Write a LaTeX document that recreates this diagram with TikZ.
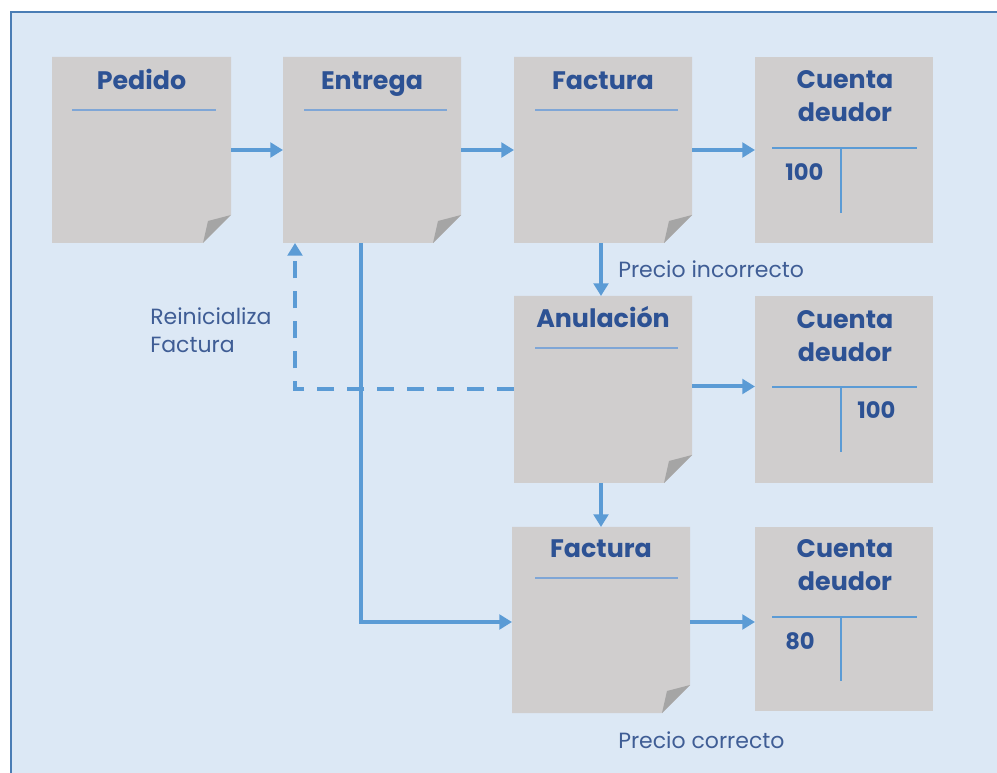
\documentclass[tikz,border=0pt]{standalone}
\usepackage{fontspec}
\setmainfont{Poppins}
\usetikzlibrary{arrows.meta,calc,fit}
\definecolor{bgblue}{HTML}{DCE8F5}
\definecolor{framec}{HTML}{4A7DB5}
\definecolor{pagec}{HTML}{D0CECE}
\definecolor{foldc}{HTML}{A5A5A5}
\definecolor{titlec}{HTML}{2D5294}
\definecolor{labelc}{HTML}{3F5D95}
\definecolor{arrc}{HTML}{5B9BD5}
\definecolor{ulinec}{HTML}{7FA6D6}
\tikzset{
  arr/.style={draw=arrc,line width=3pt,-{Triangle[length=9.5pt,width=11pt]}},
  dasharr/.style={arr,dash pattern=on 12.75pt off 9.75pt},
  ttl/.style={text=titlec,font=\fontsize{19}{24.5}\selectfont\bfseries,anchor=base,inner sep=0pt,align=center},
  num/.style={text=titlec,font=\fontsize{17}{20}\selectfont\bfseries,anchor=base west,inner sep=0pt},
  lbl/.style={text=labelc,font=\fontsize{16.5}{21}\selectfont,anchor=base west,inner sep=0pt,align=left},
  uline/.style={draw=ulinec,line width=0.9pt},
  tline/.style={draw=arrc,line width=0.9pt},
  boxarea/.style={inner sep=0pt,outer sep=0pt},
}
% page with folded corner: name, x1, y1, x2, y2
\newcommand\mypage[5]{%
  \fill[pagec] (#2,#3) -- (#4,#3) -- (#4,#5-28) -- (#4-28,#5) -- (#2,#5) -- cycle;
  \fill[foldc] (#4,#5-28) .. controls (#4-12,#5-25) .. (#4-23,#5-22) -- (#4-28,#5) -- cycle;
  \node[boxarea,fit={(#2,#3) (#4,#5)}] (#1) {};
}
\newcommand\myacct[5]{%
  \fill[pagec] (#2,#3) rectangle (#4,#5);
  \node[boxarea,fit={(#2,#3) (#4,#5)}] (#1) {};
}
\begin{document}
\begin{tikzpicture}[x=0.75pt,y=-0.75pt]
\useasboundingbox (0,0) rectangle (997,773);
\fill[white] (0,0) rectangle (997,773);
\fill[bgblue] (11,12) rectangle (1005,780);
\draw[framec,line width=1.5pt] (11,780) -- (11,12) -- (1005,12);

% boxes
\mypage{pedido}{52}{57}{231}{243}
\mypage{entrega}{283}{57}{461}{243}
\mypage{facta}{514}{57}{692}{243}
\myacct{cta}{755}{57}{933}{243}
\mypage{anul}{514}{296}{692}{483}
\myacct{ctb}{755}{296}{933}{483}
\mypage{factb}{512}{527}{690}{713}
\myacct{ctc}{755}{527}{933}{711}

% titles
\node[ttl] (tped) at (pedido.center |- 0,90) {Pedido};
\node[ttl] (tent) at (entrega.center |- 0,90) {Entrega};
\node[ttl] (tfa) at (facta.center |- 0,90) {Factura};
\node[ttl] (tanul) at (anul.center |- 0,328) {Anulación};
\node[ttl] (tfb) at (factb.center |- 0,558) {Factura};
\node[ttl,anchor=base] (tcta) at (845,89) {Cuenta};
\node[ttl,anchor=base] (tcta2) at (845,122) {deudor};
\node[ttl,anchor=base] (tctb) at (845,329) {Cuenta};
\node[ttl,anchor=base] (tctb2) at (845,362) {deudor};
\node[ttl,anchor=base] (tctc) at (845,558) {Cuenta};
\node[ttl,anchor=base] (tctc2) at (845,590) {deudor};

% underlines
\draw[uline] (72,110) -- (216,110);
\draw[uline] (304,110) -- (447,110);
\draw[uline] (535,110) -- (678,110);
\draw[uline] (535,348) -- (678,348);
\draw[uline] (535,578) -- (678,578);

% T accounts
\draw[tline] (772,148) -- (917,148) (841,148) -- (841,213);
\draw[tline] (772,387) -- (917,387) (841,387) -- (841,452);
\draw[tline] (772,617) -- (917,617) (841,617) -- (841,681);
\node[num] (n1) at (785,181) {100};
\node[num] (n2) at (857,419) {100};
\node[num] (n3) at (785,649) {80};

% arrows
\draw[arr] (pedido.east) -- (entrega.west);
\draw[arr] (entrega.east) -- (facta.west);
\draw[arr] (facta.east) -- (cta.west);
\draw[arr] ($(facta.south)+(-2,0)$) -- ($(anul.north)+(-2,0)$);
\draw[arr] ($(anul.east)+(0,-3)$) -- ($(ctb.west)+(0,-3)$);
\draw[arr] ($(anul.south)+(-2,0)$) -- ($(factb.north)+(0,0)$);
\coordinate (fbout) at ($(factb.east)+(0,2)$);
\draw[arr] (fbout) -- (fbout -| ctc.west);
\draw[arr] ($(entrega.south)+(-11,0)$) |- ($(factb.west)+(0,2)$);
\draw[dasharr] (anul.west) -| ($(entrega.south)+(-77,0)$);

% labels
\node[lbl] (l1) at (618,278) {Precio incorrecto};
\node[lbl] (l2) at (150,353) {Reinicializa\\Factura};
\node[lbl] (l3) at (618,748) {Precio correcto};
\end{tikzpicture}
\end{document}
